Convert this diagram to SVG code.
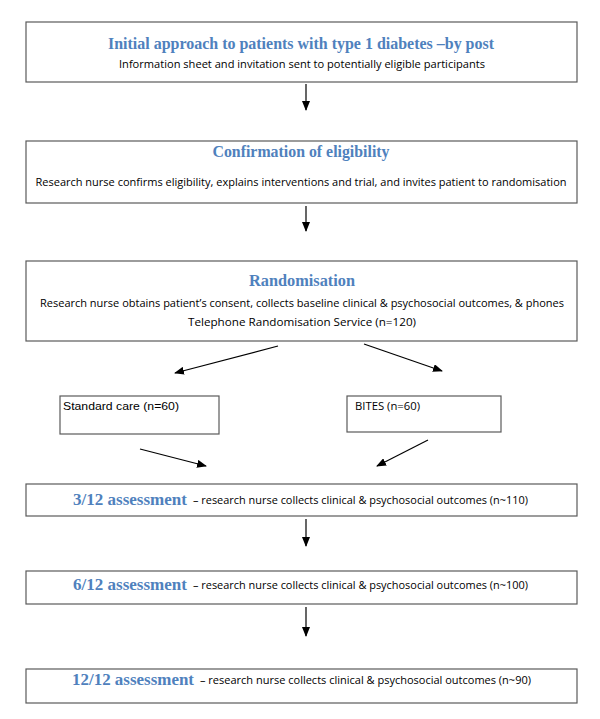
<svg xmlns="http://www.w3.org/2000/svg" width="600" height="719" viewBox="0 0 600 719">
<style>
.box{fill:#fff;stroke:#5a5a5a;stroke-width:1.2}
.ttl{font-family:"Liberation Serif","DejaVu Serif",serif;font-weight:bold;fill:#4F81BD;font-size:17px}
.txt{font-family:"Open Sans","Liberation Sans",sans-serif;fill:#000;font-size:11px}
.ar{font-family:"Liberation Sans",Arial,sans-serif;fill:#000}
.con{stroke:#000;stroke-width:1.2;fill:none;marker-end:url(#ah)}
</style>
<defs>
<marker id="ah" markerWidth="10" markerHeight="8" refX="9" refY="4" orient="auto" markerUnits="userSpaceOnUse">
<path d="M0,0 L10,4 L0,8 Z" fill="#000"/>
</marker>
</defs>
<rect width="600" height="719" fill="#fff"/>
<g id="n1">
<rect class="box" x="26" y="22" width="551" height="60"/>
<text class="ttl" x="301" y="49" text-anchor="middle" textLength="386" lengthAdjust="spacingAndGlyphs">Initial approach to patients with type 1 diabetes –by post</text>
<text class="txt" x="302" y="68" text-anchor="middle" textLength="366" lengthAdjust="spacingAndGlyphs">Information sheet and invitation sent to potentially eligible participants</text>
</g>
<g id="n2">
<rect class="box" x="26" y="141" width="551" height="62"/>
<text class="ttl" x="301" y="157" text-anchor="middle" textLength="177" lengthAdjust="spacingAndGlyphs">Confirmation of eligibility</text>
<text class="txt" x="301" y="186" text-anchor="middle" textLength="531" lengthAdjust="spacingAndGlyphs">Research nurse confirms eligibility, explains interventions and trial, and invites patient to randomisation</text>
</g>
<g id="n3">
<rect class="box" x="26" y="261" width="551" height="80"/>
<text class="ttl" x="302" y="286" text-anchor="middle" textLength="106" lengthAdjust="spacingAndGlyphs">Randomisation</text>
<text class="txt" x="302" y="307" text-anchor="middle" textLength="524" lengthAdjust="spacingAndGlyphs">Research nurse obtains patient’s consent, collects baseline clinical &amp; psychosocial outcomes, &amp; phones</text>
<text class="txt" x="302" y="326" text-anchor="middle" textLength="228" lengthAdjust="spacingAndGlyphs">Telephone Randomisation Service (n=120)</text>
</g>
<g id="n4">
<rect class="box" x="60" y="396" width="159" height="38"/>
<text class="ar" x="63" y="410" font-size="11.5" textLength="116" lengthAdjust="spacingAndGlyphs">Standard care (n=60)</text>
</g>
<g id="n5">
<rect class="box" x="347" y="396" width="154" height="36"/>
<text class="txt" x="355" y="410" textLength="65" lengthAdjust="spacingAndGlyphs">BITES (n=60)</text>
</g>
<g id="n6">
<rect class="box" x="26" y="484" width="551" height="32"/>
<text class="ttl" x="73" y="505" textLength="114" lengthAdjust="spacingAndGlyphs">3/12 assessment</text>
<text class="txt" x="193" y="504" textLength="335" lengthAdjust="spacingAndGlyphs">– research nurse collects clinical &amp; psychosocial outcomes (n~110)</text>
</g>
<g id="n7">
<rect class="box" x="26" y="571" width="551" height="33"/>
<text class="ttl" x="73" y="590" textLength="114" lengthAdjust="spacingAndGlyphs">6/12 assessment</text>
<text class="txt" x="193" y="589" textLength="335" lengthAdjust="spacingAndGlyphs">– research nurse collects clinical &amp; psychosocial outcomes (n~100)</text>
</g>
<g id="n8">
<rect class="box" x="26" y="669" width="551" height="34"/>
<text class="ttl" x="72" y="685" textLength="122" lengthAdjust="spacingAndGlyphs">12/12 assessment</text>
<text class="txt" x="200" y="684" textLength="331" lengthAdjust="spacingAndGlyphs">– research nurse collects clinical &amp; psychosocial outcomes (n~90)</text>
</g>
<g id="connectors">
<line class="con" x1="306" y1="84" x2="306" y2="110"/>
<line class="con" x1="306" y1="206" x2="306" y2="231"/>
<line class="con" x1="278" y1="346" x2="175" y2="373"/>
<line class="con" x1="364" y1="344" x2="442" y2="371"/>
<line class="con" x1="140" y1="449" x2="206" y2="466"/>
<line class="con" x1="428" y1="440" x2="377" y2="466"/>
<line class="con" x1="306" y1="519" x2="306" y2="546"/>
<line class="con" x1="306" y1="607" x2="306" y2="636"/>
</g>
</svg>
